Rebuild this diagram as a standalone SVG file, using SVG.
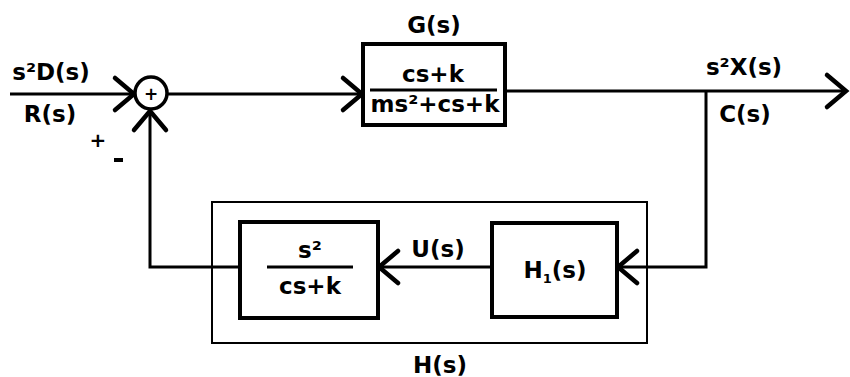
<svg xmlns="http://www.w3.org/2000/svg" width="850" height="377" viewBox="0 0 850 377">
  <style>
    text { font-family: "DejaVu Sans", "Liberation Sans", sans-serif; font-weight: bold; fill: #000; }
    .lbl { font-size: 23px; text-anchor: middle; }
    .sign { font-size: 20px; text-anchor: middle; }
    .blk { fill: #fff; stroke: #000; stroke-width: 4; }
    .outer { fill: none; stroke: #000; stroke-width: 2; }
    .bar { stroke: #000; stroke-width: 3; }
    .wire { fill: none; stroke: #000; stroke-width: 3; }
    .arr { marker-end: url(#chev); }
  </style>
  <defs>
    <marker id="chev" markerUnits="userSpaceOnUse" viewBox="-24 -20 28 40" refX="0" refY="0" markerWidth="28" markerHeight="40" orient="auto">
      <path d="M -19 -16 L 0 0 L -19 16" fill="none" stroke="#000" stroke-width="4.5" stroke-linecap="round"/>
    </marker>
  </defs>

  <!-- signal paths -->
  <g id="connectors">
    <line class="wire arr" x1="10" y1="94" x2="134" y2="94"/>
    <line class="wire arr" x1="168" y1="94" x2="362" y2="94"/>
    <line class="wire arr" x1="505" y1="91" x2="846" y2="91"/>
    <polyline class="wire arr" points="706,91 706,267 618,267"/>
    <line class="wire arr" x1="492" y1="267" x2="379" y2="267"/>
    <polyline class="wire arr" points="240,267 150,267 150,111"/>
  </g>

  <!-- summing junction -->
  <g id="sum">
    <circle cx="151" cy="93" r="16" fill="#fff" stroke="#000" stroke-width="3.5"/>
    <text class="sign" x="151" y="100" style="font-size:17px">+</text>
    <text class="sign" x="98" y="147">+</text>
    <rect x="114" y="158" width="9" height="4" fill="#000"/>
  </g>

  <!-- signal labels -->
  <g id="labels">
    <text class="lbl" x="51" y="80">s²D(s)</text>
    <text class="lbl" x="50" y="122">R(s)</text>
    <text class="lbl" x="744" y="75">s²X(s)</text>
    <text class="lbl" x="745" y="122">C(s)</text>
    <text class="lbl" x="438" y="257">U(s)</text>
  </g>

  <!-- plant G(s) -->
  <g id="G">
    <text class="lbl" x="434" y="33">G(s)</text>
    <rect class="blk" x="363" y="44" width="142" height="81"/>
    <text class="lbl" x="433" y="82">cs+k</text>
    <line class="bar" x1="370" y1="90" x2="497" y2="90"/>
    <text class="lbl" x="435" y="112">ms²+cs+k</text>
  </g>

  <!-- feedback H(s) -->
  <g id="H">
    <rect class="outer" x="212" y="202" width="435" height="141"/>
    <text class="lbl" x="440" y="373">H(s)</text>
  </g>

  <g id="H2">
    <rect class="blk" x="240" y="222" width="138" height="96"/>
    <text class="lbl" x="310" y="258">s²</text>
    <line class="bar" x1="267" y1="267" x2="353" y2="267"/>
    <text class="lbl" x="310" y="294">cs+k</text>
  </g>

  <g id="H1">
    <rect class="blk" x="492" y="223" width="125" height="94"/>
    <text class="lbl" x="555" y="278">H<tspan style="font-size:13px" dy="5">1</tspan><tspan dy="-5">(s)</tspan></text>
  </g>
</svg>
